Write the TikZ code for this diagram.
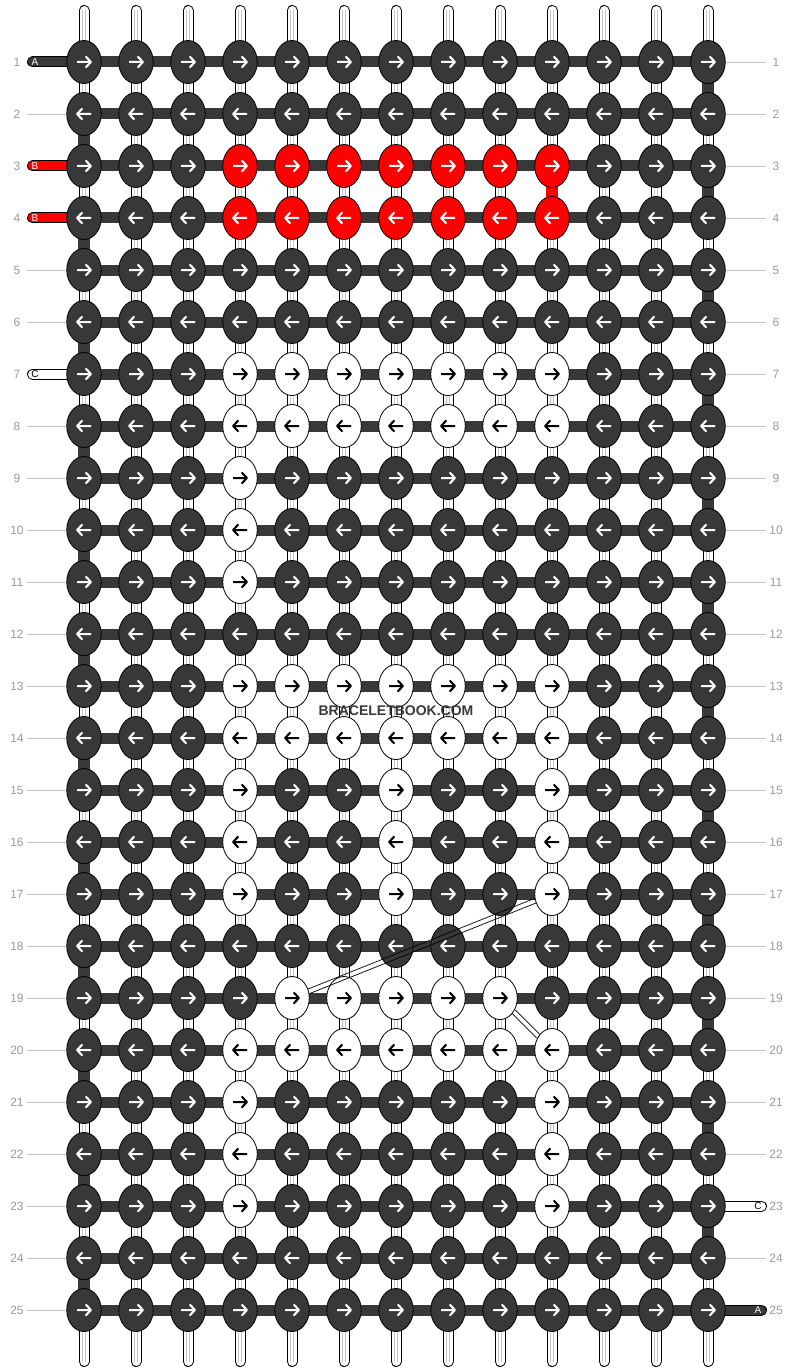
\documentclass[tikz,border=0pt]{standalone}
\usepackage{fontspec}
\setmainfont{Liberation Sans}
\usepackage{tikz}
\usetikzlibrary{backgrounds,calc,shapes.geometric}
\definecolor{knotdark}{HTML}{383838}
\definecolor{knotred}{HTML}{FF0000}
\definecolor{rowgray}{HTML}{999999}
\definecolor{tickgray}{HTML}{C4C4C4}
\definecolor{stripegray}{HTML}{C8C8C8}

\begin{document}
\begin{tikzpicture}[
x=1pt,y=-1pt,
font=\normalfont,
knot/.style={ellipse,draw=black,line width=0.8pt,minimum width=34.5pt,minimum height=43pt,
  inner sep=0pt,fill=\kfill,
  path picture={\draw[draw=\karrow,line width=2pt,line join=round,shift={(path picture bounding box.center)}]
    ({-7*\kdir},0) -- ({7*\kdir},0) ({1.6*\kdir},-5.6) -- ({7*\kdir},0) -- ({1.6*\kdir},5.6);}},
weft/.style={draw=knotdark,line width=11pt},
turn/.style={line width=11.6pt},
warp/.style={draw=black,line width=1pt,double=white,double distance=9pt,
  postaction={draw=stripegray,line width=0.6pt,double=white,double distance=2.2pt,line cap=butt}},
warpend/.style={warp,line cap=round},
tail/.style={draw=black,line width=1pt,double distance=9pt,line cap=round},
tag/.style={inner sep=0pt,font=\fontsize{10}{10}\selectfont},
rownum/.style={text=rowgray,inner sep=0pt,font=\fontsize{12}{12}\selectfont},
tick/.style={draw=tickgray,line width=0.8pt},
carry/.style={draw=black,line width=0.7pt},
brand/.style={text=knotdark,inner sep=0pt,font=\fontsize{14}{14}\bfseries}]
    \useasboundingbox (0,0) rectangle (792,1372);

    % Knots
    \foreach \r in {1,...,25}{
      \foreach \c in {1,...,13}{
        \pgfmathtruncatemacro\band{(\c>3)&&(\c<11)}
        \pgfmathtruncatemacro\kind{(((\r==3)||(\r==4))&&\band) ? 2 :
          (((((\r==7)||(\r==8)||(\r==13)||(\r==14)||(\r==20))&&\band)
          ||(((\r==9)||(\r==10)||(\r==11))&&(\c==4))
          ||(((\r==15)||(\r==16)||(\r==17))&&((\c==4)||(\c==7)||(\c==10)))
          ||((\r==19)&&(\c>4)&&(\c<10))
          ||(((\r==21)||(\r==22)||(\r==23))&&((\c==4)||(\c==10)))) ? 1 : 0)}
        \ifcase\kind \def\kfill{knotdark}\def\karrow{white}
        \or \def\kfill{white}\def\karrow{black}
        \or \def\kfill{knotred}\def\karrow{white}\fi
        \ifodd\r \def\kdir{1}\else \def\kdir{-1}\fi
        \node[knot] (k-\r-\c) at ({84+52*(\c-1)},{62+52*(\r-1)}) {};
      }
    }

    % Row numbers
    \foreach \r in {1,...,25}{
      \node[rownum] (ll-\r) at (17,{62+52*(\r-1)}) {\r};
      \node[rownum] (rl-\r) at (776,{62+52*(\r-1)}) {\r};
    }
    \foreach \r in {2,5,6,8,9,...,25}{
      \coordinate (le-\r) at (27,{62+52*(\r-1)});
      \draw[tick] (le-\r) -- (k-\r-1);
    }
    \foreach \r in {1,...,22,24}{
      \coordinate (re-\r) at (766,{62+52*(\r-1)});
      \draw[tick] (k-\r-13) -- (re-\r);
    }

    \begin{scope}[on background layer]
      % Weft bars
      \foreach \r in {1,...,25}{
        \foreach \c [count=\cn from 2] in {1,...,12}
          \draw[weft] (k-\r-\c.center) -- (k-\r-\cn.center);
      }
      % Warp threads
      \foreach \c in {1,...,13}{
        \coordinate (wt-\c) at ({84+52*(\c-1)},10.5);
        \coordinate (wb-\c) at ({84+52*(\c-1)},1361.5);
        \draw[warpend] (wt-\c) -- (k-1-\c.center);
        \draw[warpend] (k-25-\c.center) -- (wb-\c);
        \foreach \r [count=\rn from 2] in {1,...,24}
          \draw[warp] (k-\r-\c.center) -- (k-\rn-\c.center);
      }
      % Turns at the edges
      \foreach \r [evaluate=\r as \rn using int(\r+1)] in {2,4,...,24}
        \draw[turn,knotdark] (k-\r-1.center) -- (k-\rn-1.center);
      \foreach \r [evaluate=\r as \rn using int(\r+1)] in {1,3,...,23}
        \draw[turn,knotdark] (k-\r-13.center) -- (k-\rn-13.center);
      \draw[turn,knotred] (k-3-10.center) -- (k-4-10.center);
      % Loose ends
      \coordinate (ta-1) at (32.5,62);
      \coordinate (tb-3) at (32.5,166);
      \coordinate (tb-4) at (32.5,218);
      \coordinate (tc-7) at (32.5,374);
      \coordinate (tc-23) at (761.5,1206);
      \coordinate (ta-25) at (761.5,1310);
      \draw[tail,double=knotdark] (ta-1) -- (k-1-1.center);
      \draw[tail,double=knotred] (tb-3) -- (k-3-1.center);
      \draw[tail,double=knotred] (tb-4) -- (k-4-1.center);
      \draw[tail,double=white] (tc-7) -- (k-7-1.center);
      \draw[tail,double=white] (k-23-13.center) -- (tc-23);
      \draw[tail,double=knotdark] (k-25-13.center) -- (ta-25);
    \end{scope}
    \node[tag,text=white] (tag-1) at (35,62) {A};
    \node[tag,text=white] (tag-3) at (35,166) {B};
    \node[tag,text=white] (tag-4) at (35,218) {B};
    \node[tag,text=black] (tag-7) at (35,374) {C};
    \node[tag,text=black] (tag-23) at (758,1206) {C};
    \node[tag,text=white] (tag-25) at (758,1310) {A};

    % Carried thread
    \path (k-17-10) -- (k-19-5) coordinate[pos=0] (cs-1) coordinate[pos=1] (ce-1);
    \draw[carry] ($(cs-1)!2.4pt!90:(ce-1)$) -- ($(ce-1)!2.4pt!-90:(cs-1)$);
    \draw[carry] ($(cs-1)!2.4pt!-90:(ce-1)$) -- ($(ce-1)!2.4pt!90:(cs-1)$);
    \path (k-19-9) -- (k-20-10) coordinate[pos=0] (cs-2) coordinate[pos=1] (ce-2);
    \draw[carry] ($(cs-2)!2.4pt!90:(ce-2)$) -- ($(ce-2)!2.4pt!-90:(cs-2)$);
    \draw[carry] ($(cs-2)!2.4pt!-90:(ce-2)$) -- ($(ce-2)!2.4pt!90:(cs-2)$);

    \node[brand] (brand) at (396,711) {BRACELETBOOK.COM};
\end{tikzpicture}
\end{document}
